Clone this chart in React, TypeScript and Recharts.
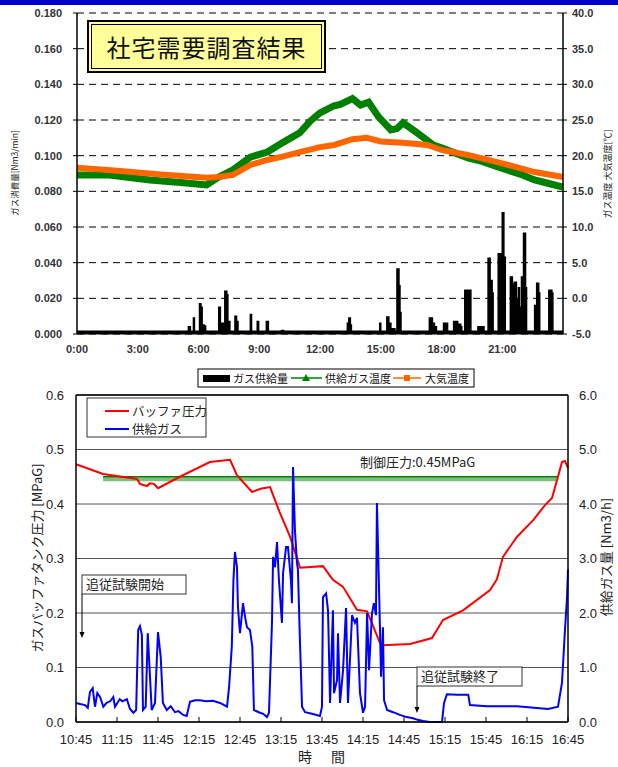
import {
  ComposedChart,
  Line,
  Area,
  XAxis,
  YAxis,
  CartesianGrid,
  ReferenceLine,
} from "recharts";

// ---- top chart: 24h survey ----
const TOP_X_TICKS = [0, 3, 6, 9, 12, 15, 18, 21];
const TOP_LEFT_TICKS = [0, 0.02, 0.04, 0.06, 0.08, 0.1, 0.12, 0.14, 0.16, 0.18];
const TOP_RIGHT_TICKS = [-5, 0, 5, 10, 15, 20, 25, 30, 35, 40];

// gas supply (Nm3/min), left axis
const SUPPLY_HOURS = [
  0, 5.45, 5.5, 5.6, 5.7, 5.75, 5.8, 6.0, 6.05, 6.12, 6.18, 6.28, 6.35, 6.95, 7.0, 7.08, 7.2, 7.3, 7.4, 7.45,
  7.5, 7.55, 7.75, 7.8, 7.88, 7.95, 8.5, 8.56, 8.62, 8.85, 8.9, 8.97, 9.3, 9.35, 9.45, 10.05, 10.1, 10.2,
  13.3, 13.35, 13.42, 13.5, 13.55, 14.9, 14.95, 15.0, 15.2, 15.3, 15.4, 15.5, 15.7, 15.8, 15.9, 15.95, 16.0,
  17.3, 17.4, 17.55, 17.65, 17.75, 18.0, 18.1, 18.2, 18.3, 18.5, 18.6, 18.75, 18.8, 18.85, 18.95, 19.0,
  19.1, 19.15, 19.35, 19.45, 19.7, 19.8, 20.0, 20.1, 20.25, 20.3, 20.4, 20.5, 20.55, 20.75, 20.8, 20.9,
  21.0, 21.08, 21.15, 21.35, 21.4, 21.5, 21.6, 21.7, 21.8, 21.85, 21.95, 22.05, 22.15, 22.2, 22.55, 22.6,
  22.7, 22.8, 22.85, 23.25, 23.3, 23.45, 23.5, 24,
];
const SUPPLY = [
  0.0015, 0.0015, 0.004, 0.0015, 0.0015, 0.009, 0.0015, 0.0015, 0.017, 0.015, 0.005, 0.0045, 0.0015, 0.0015,
  0.015, 0.006, 0.006, 0.024, 0.022, 0.006, 0.007, 0.0015, 0.0015, 0.01, 0.007, 0.0015, 0.0015, 0.011,
  0.0015, 0.0015, 0.007, 0.0015, 0.0015, 0.007, 0.0015, 0.0015, 0.002, 0.0015, 0.0015, 0.006, 0.009, 0.005,
  0.0015, 0.0015, 0.006, 0.0015, 0.0015, 0.0095, 0.006, 0.003, 0.0015, 0.0365, 0.027, 0.012, 0.0015, 0.0015,
  0.009, 0.006, 0.004, 0.0015, 0.0015, 0.006, 0.006, 0.0015, 0.0015, 0.007, 0.007, 0.0015, 0.0055, 0.004,
  0.0015, 0.0015, 0.0245, 0.0245, 0.0015, 0.0015, 0.004, 0.004, 0.0015, 0.0015, 0.0425, 0.03, 0.023, 0.0015,
  0.0015, 0.045, 0.045, 0.068, 0.043, 0.0015, 0.0015, 0.032, 0.028, 0.029, 0.02, 0.026, 0.015, 0.032, 0.0565,
  0.026, 0.0015, 0.0015, 0.016, 0.0285, 0.023, 0.0015, 0.0015, 0.0245, 0.023, 0.0015, 0.0015,
];

// supply gas temperature (°C), right axis
const GAS_TEMP_HOURS = [
  0, 1.6, 3.6, 5.25, 6.4, 7, 7.7, 8.56, 9.4, 10.2, 11, 11.5, 12, 12.7, 13, 13.6, 14, 14.4, 14.9, 15.5, 15.8,
  16.1, 16.8, 17.6, 18, 19.3, 20, 20.9, 22, 22.6, 23.3, 24,
];
const GAS_TEMP = [
  17.3, 17.3, 16.6, 16.2, 15.9, 17.0, 18.0, 19.8, 20.5, 21.9, 23.2, 24.8, 26.0, 27.0, 27.2, 28.0, 27.1, 27.5,
  25.4, 23.6, 23.8, 24.6, 23.2, 21.5, 21.1, 19.7, 19.2, 18.3, 17.3, 16.6, 16.1, 15.6,
];

// outdoor air temperature (°C), right axis
const AIR_TEMP_HOURS = [0, 2, 4, 6.4, 7, 7.7, 8.56, 9.4, 10.2, 11, 12, 12.7, 13.6, 14.3, 15, 16.1, 17.3, 18, 19.3, 20.9, 22.6, 24];
const AIR_TEMP = [18.3, 17.9, 17.4, 16.9, 17.0, 17.3, 18.7, 19.4, 19.9, 20.5, 21.2, 21.5, 22.3, 22.5, 22.0, 21.8, 21.5, 20.8, 20.1, 19.0, 17.7, 17.0];

// ---- bottom chart: follow-up test (minutes after 10:45) ----
const BOTTOM_X_TICKS = [0, 30, 60, 90, 120, 150, 180, 210, 240, 270, 300, 330, 360];
const BOTTOM_X_LABELS = ["10:45", "11:15", "11:45", "12:15", "12:45", "13:15", "13:45", "14:15", "14:45", "15:15", "15:45", "16:15", "16:45"];
const PRESSURE_TICKS = [0, 0.1, 0.2, 0.3, 0.4, 0.5, 0.6];
const FLOW_TICKS = [0, 1, 2, 3, 4, 5, 6];

const PRESSURE_MIN = [
  0, 19.8, 44.6, 46.8, 52, 54, 57, 60, 76, 98, 112.7, 117.8, 128.8, 135, 142, 149, 156.6, 164, 180.7, 188,
  195.4, 205.6, 213, 222.4, 224.6, 244.4, 260.5, 268.5, 283.2, 303, 308, 312.4, 322.7, 334.4, 343.2, 348.3,
  352, 355.6, 357.8, 360,
];
const PRESSURE = [
  0.473, 0.455, 0.446, 0.437, 0.433, 0.438, 0.437, 0.429, 0.45, 0.477, 0.481, 0.453, 0.422, 0.428, 0.431,
  0.385, 0.34, 0.283, 0.286, 0.261, 0.248, 0.206, 0.203, 0.145, 0.141, 0.143, 0.154, 0.187, 0.205, 0.242,
  0.262, 0.303, 0.34, 0.37, 0.398, 0.411, 0.444, 0.477, 0.479, 0.466,
];

const FLOW_MIN = [
  0, 3, 6.6, 8.6, 10.2, 12.2, 13.9, 15.6, 17.6, 20, 22.4, 25, 27.3, 28.5, 32, 34, 37.2, 39.5, 42, 44, 45.5,
  46.8, 48.2, 49, 51, 52.5, 53.4, 55.4, 57.8, 60, 62, 63.6, 66.4, 69.3, 72.4, 75, 78.5, 81, 83.4, 87, 90.7,
  95, 100.2, 105.4, 110.5, 112, 114, 115.2, 116.3, 117.8, 118.5, 120, 122.2, 123.7, 125.1, 127.3, 129,
  130.2, 134.6, 137, 139.7, 141.2, 143.4, 144.2, 145.6, 147.1, 148.5, 150.7, 151.5, 153.7, 155.1, 157.3,
  158, 158.8, 160.2, 161.7, 162.4, 163.9, 165.4, 167.6, 172.7, 178.5, 180, 180.7, 183, 184.4, 185.9, 188,
  188.8, 191, 191.7, 193.2, 195.4, 197.6, 199, 202, 204.1, 205.6, 207.8, 210, 211.5, 213, 214.4, 216.6, 218,
  219.5, 220.2, 221, 222.4, 223.2, 224.6, 225.4, 227.6, 232, 237, 242, 246.6, 250, 254, 259, 267.8, 269.3,
  271.4, 278.8, 287, 288.3, 300.7, 322.7, 345.4, 352.7, 355.6, 357.8, 359.3, 360,
];
const FLOW = [
  0.35, 0.33, 0.31, 0.26, 0.55, 0.62, 0.28, 0.53, 0.46, 0.28, 0.35, 0.38, 0.46, 0.28, 0.42, 0.38, 0.42, 0.24,
  0.17, 0.22, 1.69, 1.76, 1.6, 0.22, 0.28, 1.63, 1.19, 0.22, 0.35, 1.65, 1.19, 0.35, 0.22, 0.29, 0.18, 0.2,
  0.13, 0.11, 0.37, 0.4, 0.4, 0.38, 0.39, 0.35, 0.28, 0.64, 1.38, 2.6, 3.12, 2.84, 2.11, 1.63, 2.18, 1.93,
  1.74, 1.69, 1.38, 0.22, 0.17, 0.15, 0.09, 0.17, 1.82, 3.03, 2.84, 3.3, 2.6, 1.82, 2.73, 3.21, 3.21, 2.6,
  2.18, 4.68, 3.52, 2.92, 2.79, 1.45, 0.28, 0.18, 0.15, 0.11, 0.28, 2.29, 2.36, 2.05, 0.35, 2.05, 0.53, 0.77,
  1.63, 0.35, 0.95, 2.09, 0.35, 1.96, 1.82, 1.91, 0.53, 0.17, 0.28, 2.0, 0.95, 2.0, 2.18, 1.96, 4.02, 3.21,
  1.74, 0.83, 1.74, 0.4, 0.22, 0.18, 0.13, 0.09, 0.07, 0.04, 0.02, 0.0, 0.0, 0.35, 0.51, 0.5, 0.5, 0.31,
  0.29, 0.29, 0.24, 0.28, 0.72, 1.69, 2.29, 2.8,
];

// control pressure 0.45 MPaG, drawn from ~11:05 to ~16:37
const CONTROL_MIN = [19.8, 352];
const CONTROL_PRESSURE = 0.45;

const zip = (xs: number[], ys: number[]) => xs.map((t, i) => ({ t, v: ys[i] }));

const supplyData = zip(SUPPLY_HOURS, SUPPLY);
const gasTempData = zip(GAS_TEMP_HOURS, GAS_TEMP);
const airTempData = zip(AIR_TEMP_HOURS, AIR_TEMP);
const pressureData = zip(PRESSURE_MIN, PRESSURE);
const flowData = zip(FLOW_MIN, FLOW);
const controlData = CONTROL_MIN.map((t) => ({ t, v: CONTROL_PRESSURE, lo: CONTROL_PRESSURE - 0.0045 }));

const JP = '"Noto Sans CJK JP", sans-serif';
const SANS = '"Liberation Sans", Arial, sans-serif';

const topTick = { fontSize: 11, fontWeight: "bold" as const, fill: "#333", fontFamily: SANS };
const botTick = { fontSize: 13, fill: "#222", fontFamily: SANS };

function TopChart() {
  return (
    <ComposedChart width={618} height={360} margin={{ top: 13, right: 0, bottom: 1, left: 0 }}>
      <CartesianGrid yAxisId="l" vertical={false} stroke="#000" strokeDasharray="7 5" />
      <XAxis
        dataKey="t"
        type="number"
        domain={[0, 24]}
        ticks={TOP_X_TICKS}
        tickFormatter={(h) => `${h}:00`}
        height={25}
        tick={topTick}
        tickLine={false}
        tickSize={4}
        tickMargin={7}
        axisLine={{ stroke: "#000" }}
        allowDuplicatedCategory={false}
      />
      <YAxis
        yAxisId="l"
        domain={[0, 0.18]}
        ticks={TOP_LEFT_TICKS}
        tickFormatter={(v) => v.toFixed(3)}
        width={77}
        tick={topTick}
        tickSize={4}
        tickMargin={11}
        axisLine={{ stroke: "#000", strokeWidth: 1.5 }}
        tickLine={{ stroke: "#000" }}
      />
      <YAxis
        yAxisId="r"
        orientation="right"
        domain={[-5, 40]}
        ticks={TOP_RIGHT_TICKS}
        tickFormatter={(v) => v.toFixed(1)}
        width={55}
        tick={topTick}
        tickSize={4}
        tickMargin={5}
        axisLine={{ stroke: "#000", strokeWidth: 1.5 }}
        tickLine={{ stroke: "#000" }}
      />
      <Area
        yAxisId="l"
        data={supplyData}
        dataKey="v"
        type="stepAfter"
        fill="#000"
        fillOpacity={1}
        stroke="#000"
        strokeWidth={1.5}
        isAnimationActive={false}
      />
      <Line yAxisId="r" data={gasTempData} dataKey="v" type="linear" stroke="#008000" strokeWidth={7} dot={false} isAnimationActive={false} />
      <Line yAxisId="r" data={airTempData} dataKey="v" type="linear" stroke="#FF6600" strokeWidth={6} dot={false} isAnimationActive={false} />
    </ComposedChart>
  );
}

function BottomChart() {
  return (
    <ComposedChart width={618} height={387} margin={{ top: 15, right: 0, bottom: 20, left: 0 }}>
      <CartesianGrid yAxisId="p" vertical={false} stroke="#555" />
      <XAxis
        dataKey="t"
        type="number"
        domain={[0, 360]}
        ticks={BOTTOM_X_TICKS}
        tickFormatter={(v) => BOTTOM_X_LABELS[BOTTOM_X_TICKS.indexOf(v)]}
        height={25}
        tick={botTick}
        tickSize={-5}
        tickMargin={18}
        axisLine={{ stroke: "#000", strokeWidth: 1.5 }}
        tickLine={{ stroke: "#000" }}
        allowDuplicatedCategory={false}
      />
      <YAxis
        yAxisId="p"
        domain={[0, 0.6]}
        ticks={PRESSURE_TICKS}
        tickFormatter={(v) => v.toFixed(1)}
        width={76}
        tick={botTick}
        tickSize={0}
        tickMargin={12}
        tickLine={false}
        axisLine={{ stroke: "#000", strokeWidth: 1.5 }}
      />
      <YAxis
        yAxisId="f"
        orientation="right"
        domain={[0, 6]}
        ticks={FLOW_TICKS}
        tickFormatter={(v) => v.toFixed(1)}
        width={50}
        tick={botTick}
        tickSize={0}
        tickMargin={11}
        tickLine={false}
        axisLine={{ stroke: "#000", strokeWidth: 1.5 }}
      />
      <ReferenceLine yAxisId="p" y={0.6} stroke="#000" strokeWidth={1.5} />
      <Line yAxisId="p" data={controlData} dataKey="lo" type="linear" stroke="#7CC07C" strokeWidth={4} dot={false} isAnimationActive={false} />
      <Line yAxisId="p" data={controlData} dataKey="v" type="linear" stroke="#007A00" strokeWidth={1.5} dot={false} isAnimationActive={false} />
      <Line yAxisId="p" data={pressureData} dataKey="v" type="linear" stroke="#FF0000" strokeWidth={2} dot={false} isAnimationActive={false} />
      <Line yAxisId="f" data={flowData} dataKey="v" type="linear" stroke="#0000FF" strokeWidth={2} dot={false} isAnimationActive={false} />
    </ComposedChart>
  );
}

function Overlay() {
  return (
    <svg width={618} height={767} style={{ position: "absolute", left: 0, top: 0, pointerEvents: "none" }}>
      <rect x={0} y={0} width={618} height={5} fill="#0000CC" />

      {/* top axis titles */}
      <text transform="translate(18,173) rotate(-90)" textAnchor="middle" fontSize={8.5} fontFamily={JP} fill="#222">
        ガス消費量[Nm3/min]
      </text>
      <text transform="translate(611,174) rotate(-90)" textAnchor="middle" fontSize={9} fontFamily={JP} fill="#222">
        ガス温度 大気温度[℃]
      </text>

      {/* top legend */}
      <rect x={198} y={369} width={276} height={18} fill="#fff" stroke="#000" strokeWidth={1} />
      <rect x={203} y={375} width={27} height={7} fill="#000" />
      <text x={233} y={383} fontSize={11} fontFamily={JP} fill="#111">ガス供給量</text>
      <line x1={291} y1={378} x2={322} y2={378} stroke="#008000" strokeWidth={1.5} />
      <polygon points="306,374 302,381 310,381" fill="#008000" />
      <text x={325} y={383} fontSize={11} fontFamily={JP} fill="#111">供給ガス温度</text>
      <line x1={393} y1={378} x2={421} y2={378} stroke="#FF6600" strokeWidth={1.5} />
      <rect x={404} y={375} width={6} height={6} fill="#FF6600" />
      <text x={425} y={383} fontSize={11} fontFamily={JP} fill="#111">大気温度</text>

      {/* bottom legend */}
      <rect x={87} y={398} width={119} height={39} fill="#fff" stroke="#333" strokeWidth={1} />
      <line x1={105} y1={411} x2={129} y2={411} stroke="#FF0000" strokeWidth={2} />
      <text x={132} y={416} fontSize={12.5} fontFamily={JP} fill="#222">バッファ圧力</text>
      <line x1={105} y1={429} x2={129} y2={429} stroke="#0000FF" strokeWidth={2} />
      <text x={132} y={434} fontSize={12.5} fontFamily={JP} fill="#222">供給ガス</text>

      <text x={360} y={467} fontSize={13} fontFamily={JP} fill="#222">制御圧力:0.45MPaG</text>

      {/* annotations */}
      <rect x={82} y={575} width={104} height={19} fill="#fff" stroke="#333" strokeWidth={1} />
      <text x={86} y={589} fontSize={13} fontFamily={JP} fill="#222">追従試験開始</text>
      <line x1={82} y1={594} x2={82} y2={633} stroke="#000" strokeWidth={1} />
      <polygon points="79.5,632 84.5,632 82,638" fill="#000" />

      <rect x={417} y={667} width={105} height={19} fill="#fff" stroke="#333" strokeWidth={1} />
      <text x={421} y={681} fontSize={13} fontFamily={JP} fill="#222">追従試験終了</text>
      <line x1={417} y1={686} x2={417} y2={708} stroke="#000" strokeWidth={1} />
      <polygon points="414.5,707 419.5,707 417,713" fill="#000" />

      {/* bottom axis titles */}
      <text transform="translate(42,558) rotate(-90)" textAnchor="middle" fontSize={13} fontFamily={JP} fill="#222">
        ガスバッファタンク圧力 [MPaG]
      </text>
      <text transform="translate(611,557) rotate(-90)" textAnchor="middle" fontSize={13} fontFamily={JP} fill="#222">
        供給ガス量 [Nm3/h]
      </text>
      <text x={305} y={762} textAnchor="middle" fontSize={14} fontFamily={JP} fill="#222">時</text>
      <text x={338} y={762} textAnchor="middle" fontSize={14} fontFamily={JP} fill="#222">間</text>
    </svg>
  );
}

export default function App() {
  return (
    <div style={{ position: "absolute", left: 0, top: 0, width: 618, height: 767, background: "#fff", overflow: "hidden" }}>
      <div style={{ position: "absolute", left: 0, top: 0 }}>
        <TopChart />
      </div>
      <div style={{ position: "absolute", left: 0, top: 380 }}>
        <BottomChart />
      </div>
      <Overlay />
      <div
        style={{
          position: "absolute",
          left: 87,
          top: 20,
          width: 239,
          height: 53,
          boxSizing: "border-box",
          border: "2px solid #000",
          padding: 2,
          background: "#FFFF99",
        }}
      >
        <div
          style={{
            width: "100%",
            height: "100%",
            boxSizing: "border-box",
            border: "1px solid #000",
            display: "flex",
            alignItems: "center",
            justifyContent: "center",
            fontFamily: JP,
            fontSize: 24,
            letterSpacing: 1,
            color: "#111",
          }}
        >
          社宅需要調査結果
        </div>
      </div>
    </div>
  );
}
